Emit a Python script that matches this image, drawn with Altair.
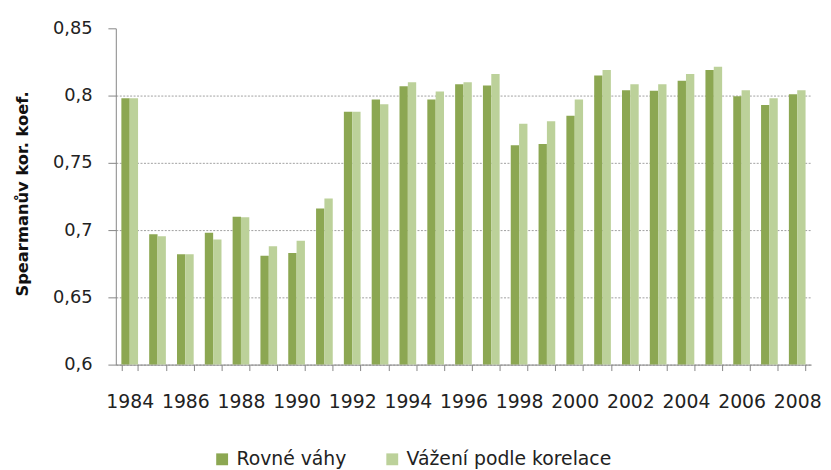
import altair as alt
import pandas as pd

years = list(range(1984, 2009))
series_names = ["Rovné váhy", "Vážení podle korelace"]
rovne_vahy = [0.798, 0.697, 0.682, 0.698, 0.710, 0.681, 0.683, 0.716, 0.788, 0.797,
              0.807, 0.797, 0.8085, 0.8075, 0.763, 0.764, 0.785, 0.815, 0.804, 0.8035,
              0.811, 0.819, 0.7995, 0.793, 0.801]
vazeni_korelace = [0.798, 0.6955, 0.682, 0.693, 0.7095, 0.688, 0.692, 0.7235, 0.788, 0.7935,
                   0.810, 0.803, 0.810, 0.816, 0.779, 0.781, 0.797, 0.819, 0.8085, 0.8085,
                   0.816, 0.8215, 0.804, 0.798, 0.804]
y_ticks = [0.6, 0.65, 0.7, 0.75, 0.8, 0.85]
colors = ["#8CA752", "#BCD19A"]

rows = []
for i, yr in enumerate(years):
    rows.append({"rok": yr, "serie": series_names[0], "hodnota": rovne_vahy[i]})
    rows.append({"rok": yr, "serie": series_names[1], "hodnota": vazeni_korelace[i]})
df = pd.DataFrame(rows)

FONT = "DejaVu Sans"

chart = alt.Chart(df).mark_bar().encode(
    x=alt.X("rok:O",
            scale=alt.Scale(paddingInner=0.4, paddingOuter=0.2),
            axis=alt.Axis(title=None, labelAngle=0, labelOverlap=False,
                          labelExpr="datum.value % 2 == 0 ? datum.label : ''",
                          tickBand="extent", tickSize=6, labelPadding=22,
                          labelFont=FONT, labelFontSize=19, labelColor="#222222",
                          domainColor="#868686", tickColor="#868686", grid=False)),
    xOffset=alt.XOffset("serie:N", sort=series_names),
    y=alt.Y("hodnota:Q",
            scale=alt.Scale(domain=[0.6, 0.85], nice=False, zero=False),
            axis=alt.Axis(title="Spearmanův kor. koef.", values=y_ticks,
                          labelExpr="replace(format(datum.value, '.2~f'), '.', ',')",
                          tickSize=8, labelPadding=16,
                          labelFont=FONT, labelFontSize=18, labelColor="#222222",
                          titleFont=FONT, titleFontSize=16.5, titleFontWeight="bold",
                          titleColor="#111111", titleAngle=270, titleX=-94, titleY=167,
                          titleAlign="center", titleBaseline="middle",
                          domainColor="#868686", tickColor="#868686",
                          grid=True, gridColor="#A0A0A0", gridDash=[2, 1.5],
                          gridOpacity={"condition": {"test": "datum.value >= 0.849", "value": 0},
                                       "value": 1})),
    y2=alt.datum(0.6),
    color=alt.Color("serie:N",
                    scale=alt.Scale(domain=series_names, range=colors),
                    legend=alt.Legend(title=None, orient="none", direction="horizontal",
                                      legendX=98, legendY=426,
                                      symbolType="square", symbolSize=144,
                                      symbolStrokeWidth=0, labelOffset=5,
                                      columnPadding=36, padding=0, labelLimit=400,
                                      labelFont=FONT, labelFontSize=19,
                                      labelColor="#222222")),
).properties(
    width=703,
    height=340,
    autosize=alt.AutoSizeParams(type="none"),
    padding={"left": 109, "top": 18, "right": 12, "bottom": 103},
).configure_view(stroke=None)

chart.save("out.html", embed_options={"renderer": "svg", "actions": False})
